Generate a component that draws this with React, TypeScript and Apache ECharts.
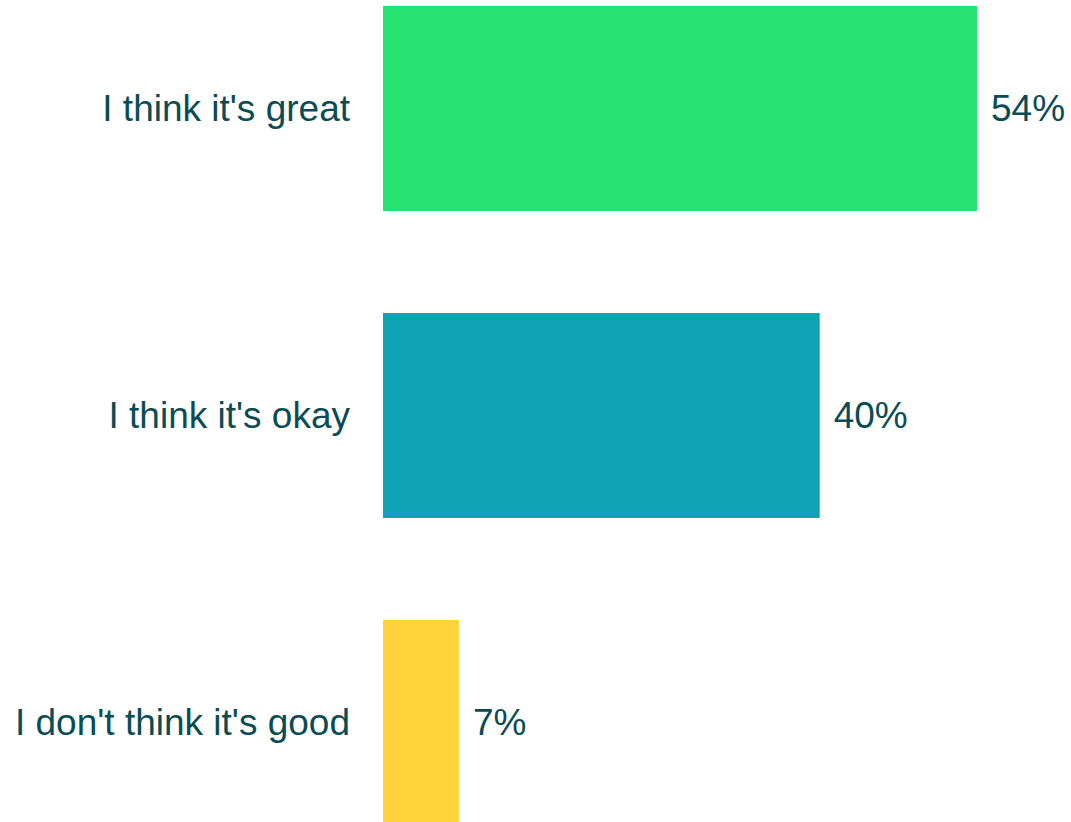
import React, { useEffect, useRef } from "react";
import * as echarts from "echarts";

const categories = ["I think it's great", "I think it's okay", "I don't think it's good"];
const values = [54, 39.7, 6.9];
const barColors = ["#26E371", "#0FA3B3", "#FFD43B"];
const textColor = "#0B4C54";

export default function App() {
  const ref = useRef<HTMLDivElement>(null);
  useEffect(() => {
    if (!ref.current) return;
    const chart = echarts.init(ref.current, null, { renderer: "svg" });
    chart.setOption({
      animation: false,
      grid: { left: 383, width: 660, top: 0, height: 921, containLabel: false },
      xAxis: {
        type: "value",
        min: 0,
        max: 60,
        show: false,
      },
      yAxis: {
        type: "category",
        data: categories,
        inverse: true,
        axisLine: { show: false },
        axisTick: { show: false },
        splitLine: { show: false },
        axisLabel: {
          fontSize: 37,
          color: textColor,
          margin: 33,
          fontFamily: "Liberation Sans, Arial, sans-serif",
        },
      },
      series: [
        {
          type: "bar",
          barWidth: 205,
          data: values.map((v, i) => ({ value: v, itemStyle: { color: barColors[i] } })),
          label: {
            show: true,
            position: "right",
            distance: 14,
            fontSize: 37,
            color: textColor,
            fontFamily: "Liberation Sans, Arial, sans-serif",
            formatter: (p: any) => Math.round(p.value) + "%",
          },
        },
      ],
    });
    return () => chart.dispose();
  }, []);
  return (
    <div style={{ position: "fixed", left: 0, top: 0, width: 1071, height: 822, overflow: "hidden", background: "#fff" }}>
      <div
        ref={ref}
        style={{ position: "absolute", left: 0, top: -45, width: 1071, height: 921 }}
      />
    </div>
  );
}
